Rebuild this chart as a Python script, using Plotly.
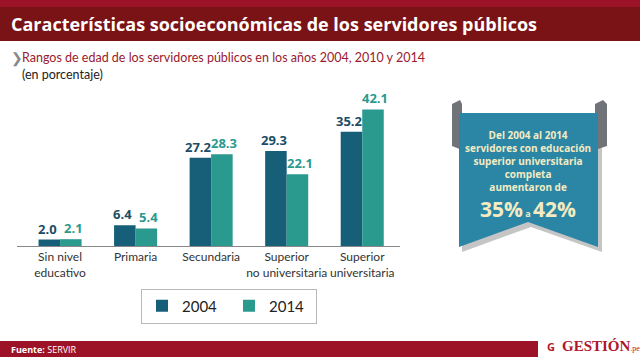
import plotly.graph_objects as go

categories = ["Sin nivel<br>educativo", "Primaria", "Secundaria", "Superior<br>no universitaria", "Superior<br>universitaria"]
series_names = ["2004", "2014"]
values_2004 = [2.0, 6.4, 27.2, 29.3, 35.2]
values_2014 = [2.1, 5.4, 28.3, 22.1, 42.1]
bar_colors = ["#175e78", "#2a9a8f"]
label_colors = ["#1b4d66", "#2a9a8f"]
label_shifts = [-13, 13]

W, H = 640, 357


def px(x):
    return x / W


def py(y):
    return 1 - y / H


fig = go.Figure()
annotations = []
for name, vals, bc, lc, sh in zip(series_names, [values_2004, values_2014], bar_colors, label_colors, label_shifts):
    fig.add_trace(go.Bar(
        x=list(range(len(categories))), y=vals, name=name,
        marker=dict(color=bc, line=dict(width=0)),
    ))
    for j, v in enumerate(vals):
        annotations.append(dict(text=f"<b>{v:.1f}</b>", x=j, y=v, xref="x", yref="y",
                                xanchor="center", yanchor="bottom", xshift=sh, yshift=0,
                                showarrow=False,
                                font=dict(family="Open Sans", size=13, color=lc)))

shapes = []
# header bands
shapes.append(dict(type="rect", xref="paper", yref="paper", x0=0, x1=1, y0=py(7), y1=1,
                   fillcolor="#9c1226", line_width=0, layer="below"))
shapes.append(dict(type="rect", xref="paper", yref="paper", x0=0, x1=1, y0=py(41), y1=py(7),
                   fillcolor="#7a1316", line_width=0, layer="below"))
# footer band
shapes.append(dict(type="rect", xref="paper", yref="paper", x0=0, x1=px(538), y0=0, y1=py(341),
                   fillcolor="#9c1226", line_width=0, layer="below"))


def poly(pts):
    return "M " + " L ".join(f"{px(x):.5f},{py(y):.5f}" for x, y in pts) + " Z"


# banner shadow
shapes.append(dict(type="path", xref="paper", yref="paper",
                   path=poly([(462, 117), (602, 117), (602, 252), (531, 227), (462, 252)]),
                   fillcolor="rgba(90,90,90,0.35)", line_width=0))
# grey rolls
shapes.append(dict(type="path", xref="paper", yref="paper",
                   path=poly([(452, 104), (460, 100), (462, 104), (462, 150), (452, 146)]),
                   fillcolor="#707378", line_width=0))
shapes.append(dict(type="path", xref="paper", yref="paper",
                   path=poly([(595, 104), (603, 100), (607, 104), (607, 146), (595, 150)]),
                   fillcolor="#707378", line_width=0))
shapes.append(dict(type="path", xref="paper", yref="paper",
                   path=poly([(459, 113), (598, 113), (598, 247), (528, 222), (459, 247)]),
                   fillcolor="#2b86a5", line_width=0))

annotations.append(dict(text="<b>Características socioeconómicas de los servidores públicos</b>",
                        x=px(9), y=py(24), xref="paper", yref="paper", xanchor="left", yanchor="middle",
                        showarrow=False, font=dict(family="Open Sans", size=18, color="white")))
annotations.append(dict(text="❯", x=px(9), y=py(59), xref="paper", yref="paper", xanchor="left",
                        yanchor="middle", showarrow=False, font=dict(family="DejaVu Sans", size=14, color="#888888")))
annotations.append(dict(text="Rangos de edad de los servidores públicos en los años 2004, 2010 y 2014",
                        x=px(20), y=py(58), xref="paper", yref="paper", xanchor="left", yanchor="middle",
                        showarrow=False, font=dict(family="Lato", size=12.5, color="#9a1a2e")))
annotations.append(dict(text="(en porcentaje)", x=px(20), y=py(74), xref="paper", yref="paper",
                        xanchor="left", yanchor="middle", showarrow=False,
                        font=dict(family="Lato", size=12.5, color="#222222")))
annotations.append(dict(text="<b>Del 2004 al 2014<br>servidores con educación<br>superior universitaria<br>completa<br>aumentaron de</b>",
                        x=px(528), y=py(161), xref="paper", yref="paper", xanchor="center", yanchor="middle",
                        showarrow=False, align="center",
                        font=dict(family="Open Sans", size=10, color="#f3ebc2")))
annotations.append(dict(text="<b>35%</b><span style='font-size:9px'><b> a </b></span><b>42%</b>",
                        x=px(528), y=py(209), xref="paper", yref="paper", xanchor="center", yanchor="middle",
                        showarrow=False, font=dict(family="Open Sans", size=21, color="#f3ebc2")))
annotations.append(dict(text="<b>Fuente:</b> SERVIR", x=px(9), y=py(349), xref="paper", yref="paper",
                        xanchor="left", yanchor="middle", showarrow=False,
                        font=dict(family="Open Sans", size=9, color="white")))
annotations.append(dict(text="<b>G</b>", x=px(551), y=py(346), xref="paper", yref="paper",
                        xanchor="center", yanchor="middle", showarrow=False,
                        font=dict(family="Open Sans", size=11, color="#b0172b")))
annotations.append(dict(text="<b>GESTIÓN</b><span style='font-size:8px'>.pe</span>", x=px(560), y=py(346),
                        xref="paper", yref="paper", xanchor="left", yanchor="middle", showarrow=False,
                        font=dict(family="Liberation Serif", size=15, color="#b0172b")))

fig.update_layout(
    width=W, height=H,
    margin=dict(l=0, r=0, t=0, b=0),
    paper_bgcolor="white", plot_bgcolor="white",
    barmode="group", bargap=0.43, bargroupgap=0,
    showlegend=True,
    legend=dict(orientation="h", x=px(141), y=py(306), xanchor="left", yanchor="middle",
                bordercolor="#b8b8b8", borderwidth=1, bgcolor="white",
                font=dict(family="Lato", size=15, color="#222222"),
                itemwidth=30, entrywidth=42, entrywidthmode="pixels"),
    xaxis=dict(domain=[px(17), px(400)], range=[-0.57, 4.5], tickmode="array",
               tickvals=list(range(len(categories))), ticktext=categories, tickangle=0,
               showgrid=False, zeroline=False, showline=True, linecolor="#888888", linewidth=1,
               ticks="", tickfont=dict(family="Lato", size=12, color="#333333")),
    yaxis=dict(domain=[py(246), py(100)], range=[0, 45], visible=False, showgrid=False, zeroline=False),
    shapes=shapes, annotations=annotations,
    font=dict(family="Open Sans"),
)

fig.write_html("out.html", config={"displayModeBar": False},
               post_script="document.body.style.margin='0';document.body.style.overflow='hidden';")
